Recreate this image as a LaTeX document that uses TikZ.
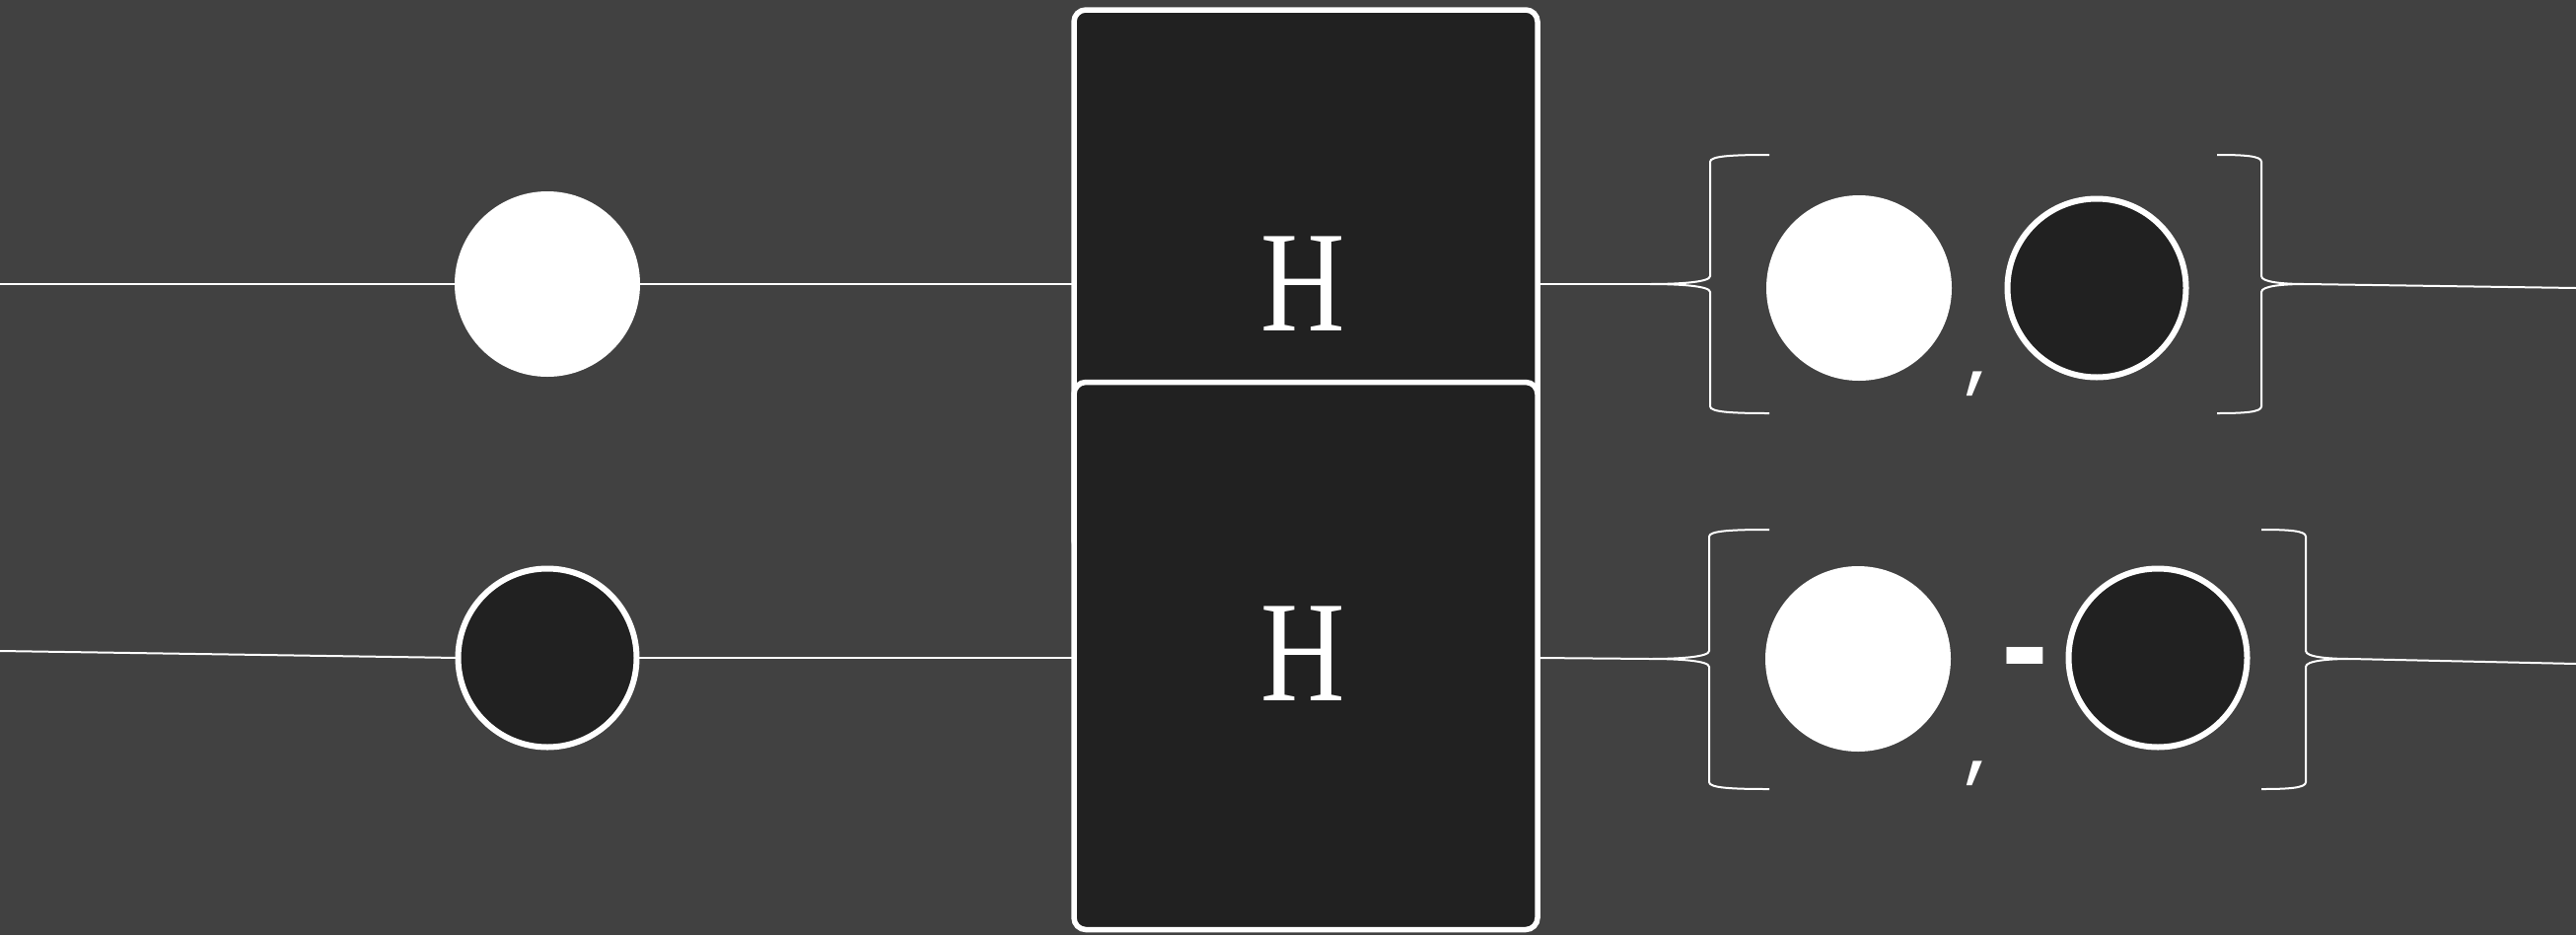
\documentclass[tikz,border=0pt]{standalone}
\usepackage{fontspec}
\usepackage{graphicx}
\newfontfamily\sansf{Poppins}
\newfontfamily\sansbf{DejaVu Sans Bold}
\newfontfamily\hfont{Liberation Serif}
\definecolor{bg}{HTML}{414141}
\definecolor{dk}{HTML}{212121}
\newcommand\curlybrace[6]{%
 (#1,#4) .. controls +({0.6*(#2-#1)},0) and +(0,-6) .. (#2,{#4+7})
 -- (#2,{#5-8}) .. controls +(0,6) and +({0.5*(#2-#3)},0) .. (#3,#5)
 .. controls +({0.5*(#2-#3)},0) and +(0,-6) .. (#2,{#5+8})
 -- (#2,{#6-7}) .. controls +(0,6) and +({0.6*(#2-#1)},0) .. (#1,#6)}
\begin{document}
\begin{tikzpicture}[x=1pt,y=-1pt,
  wire/.style={white,line width=2pt},
  brc/.style={white,line width=2pt},
  gate/.style={draw=white,fill=dk,line width=5.5pt,rounded corners=12pt,minimum width=470pt,inner sep=0pt,outer sep=0pt},
  qon/.style={circle,fill=white,minimum size=188pt,inner sep=0pt,outer sep=0pt},
  qoff/.style={circle,fill=dk,draw=white,line width=6pt,minimum size=181pt,inner sep=0pt,outer sep=0pt},
  htext/.style={text=white,inner sep=0pt,font=\hfont\fontsize{146}{146}\selectfont},
  comma/.style={text=white,inner sep=0pt,anchor=base,font=\sansf\fontsize{92}{92}\selectfont},
  minus/.style={text=white,inner sep=0pt,anchor=base,font=\sansbf\fontsize{120}{120}\selectfont},
]
\fill[bg] (0,0) rectangle (2612,948);
\useasboundingbox (0,0) rectangle (2612,948);

% left qubits
\node[qon] (q1) at (555,288) {};
\node[qoff] (q2) at (555,667) {};
\coordinate (lin1) at (0,288);
\coordinate (lin2) at (0,660);

% gates
\node[gate,minimum height=550pt] (g1) at (1324,285) {};
\node[gate,minimum height=555pt] (g2) at (1324,665) {};
\node[htext] (h1) at (1321,288) {\scalebox{0.81}[1]{H}};
\node[htext] (h2) at (1321,663) {\scalebox{0.81}[1]{H}};

% brace tips and right ends
\coordinate (t1) at (1673,288);
\coordinate (t2) at (2337,288);
\coordinate (t3) at (1673,668);
\coordinate (t4) at (2383,668);
\coordinate (rout1) at (2612,292);
\coordinate (rout2) at (2612,673);

% wires
\draw[wire] (lin1) -- (q1.west);
\draw[wire] (q1.east) -- (q1.east -| g1.west);
\draw[wire] (g1.east |- q1.east) -- (t1);
\draw[wire] (t2) -- (rout1);
\draw[wire] (lin2) -- (q2.west);
\draw[wire] (q2.east) -- (q2.east -| g2.west);
\draw[wire] (g2.east |- q2.east) -- (t3);
\draw[wire] (t4) -- (rout2);

% braces
\draw[brc] \curlybrace{1794}{1734}{1673}{157}{288}{419};
\draw[brc] \curlybrace{2248}{2293}{2337}{157}{288}{419};
\draw[brc] \curlybrace{1794}{1733}{1673}{537}{668}{800};
\draw[brc] \curlybrace{2293}{2338}{2383}{537}{668}{800};

% output states
\node[qon] (o1) at (1885,292) {};
\node[qoff] (o2) at (2126,292) {};
\node[comma] (c1) at (2004,388) {,};
\node[qon] (o3) at (1884,668) {};
\node[qoff] (o4) at (2188,667) {};
\node[comma] (c2) at (2004,783) {,};
\node[minus] (m1) at (2053,699) {-};
\end{tikzpicture}
\end{document}
